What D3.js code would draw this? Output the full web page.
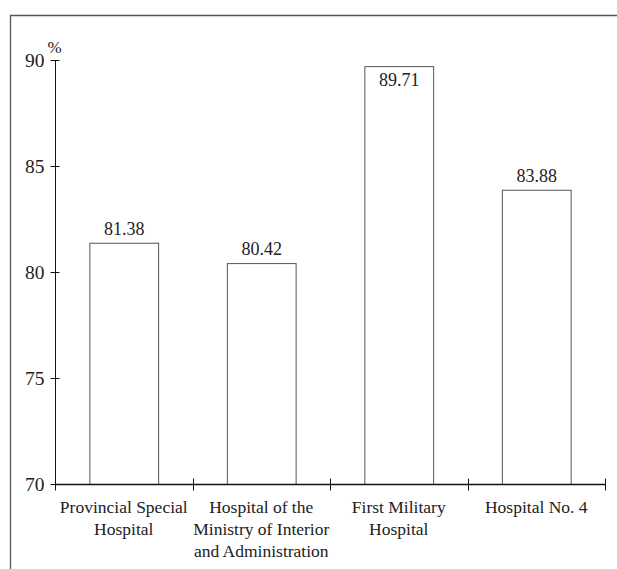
<!DOCTYPE html>
<html>
<head>
<meta charset="utf-8">
<script src="https://cdn.jsdelivr.net/npm/d3@7/dist/d3.min.js"></script>
<style>
  html, body { margin: 0; padding: 0; background: #fff; }
  svg { display: block; }
  text { font-family: "Liberation Serif", "DejaVu Serif", serif; fill: #222; }
</style>
</head>
<body>
<svg id="chart" width="617" height="569"></svg>
<script>
// Hospital names (each entry is one label line) and their percentages
const categories = [
  ["Provincial Special", "Hospital"],
  ["Hospital of the", "Ministry of Interior", "and Administration"],
  ["First Military", "Hospital"],
  ["Hospital No. 4"]
];
const values = [81.38, 80.42, 89.71, 83.88];
const yTicks = [70, 75, 80, 85, 90];
const yUnit = "%";

const svg = d3.select("#chart");
const W = 617, H = 569;
const x0 = 55, x1 = 605, yTop = 60, yBot = 484;

// Frame lines along the top and left edges
svg.append("line").attr("x1", 10).attr("x2", W).attr("y1", 15.5).attr("y2", 15.5)
  .attr("stroke", "#555").attr("stroke-width", 1.3);
svg.append("line").attr("x1", 10.5).attr("x2", 10.5).attr("y1", 15).attr("y2", H)
  .attr("stroke", "#555").attr("stroke-width", 1.3);

const x = d3.scaleBand().domain(d3.range(values.length)).range([x0, x1]).paddingInner(0.5).paddingOuter(0.25);
const xb = d3.scaleBand().domain(d3.range(values.length)).range([x0, x1]);
const y = d3.scaleLinear().domain([70, 90]).range([yBot, yTop]);

// Bars
svg.append("g").selectAll("rect").data(values).join("rect")
  .attr("x", (d, i) => x(i) + 0.5)
  .attr("y", d => y(d) + 0.5)
  .attr("width", x.bandwidth())
  .attr("height", d => y(70) - y(d))
  .attr("fill", "#fff")
  .attr("stroke", "#555")
  .attr("stroke-width", 1);

// Value labels: above the bar, or inside when it reaches the top of the axis
svg.append("g").selectAll("text").data(values).join("text")
  .attr("x", (d, i) => x(i) + x.bandwidth() / 2 + 0.5)
  .attr("y", d => (y(d) < yTop + 20 ? y(d) + 20 : y(d) - 8))
  .attr("text-anchor", "middle")
  .attr("font-size", 18)
  .text(d => d.toFixed(2));

// Y axis
const yAxis = svg.append("g").attr("transform", `translate(${x0 + 0.5},0)`);
yAxis.append("line").attr("y1", yTop).attr("y2", yBot).attr("stroke", "#111");
yAxis.selectAll("line.tick").data(yTicks).join("line").attr("class", "tick")
  .attr("x1", -5).attr("x2", 4)
  .attr("y1", d => Math.round(y(d)) + 0.5).attr("y2", d => Math.round(y(d)) + 0.5)
  .attr("stroke", "#111");
yAxis.selectAll("text").data(yTicks).join("text")
  .attr("x", -11).attr("y", d => y(d) + 6.5)
  .attr("text-anchor", "end").attr("font-size", 19.5)
  .text(d => d);
yAxis.append("text").attr("x", -8).attr("y", yTop - 7)
  .attr("font-size", 17).text(yUnit);

// X axis
const xAxis = svg.append("g").attr("transform", `translate(0,${yBot + 0.5})`);
xAxis.append("line").attr("x1", x0).attr("x2", x1 + 0.5).attr("stroke", "#111").attr("stroke-width", 1.3);
const bounds = d3.range(values.length + 1).map(i => x0 + i * xb.bandwidth());
xAxis.selectAll("line.tick").data(bounds).join("line").attr("class", "tick")
  .attr("x1", d => Math.round(d) + 0.5).attr("x2", d => Math.round(d) + 0.5)
  .attr("y1", -6).attr("y2", 6).attr("stroke", "#111");

const labels = xAxis.selectAll("text").data(categories).join("text")
  .attr("text-anchor", "middle").attr("font-size", 17.5);
labels.each(function (lines, i) {
  const t = d3.select(this);
  lines.forEach((ln, k) => {
    t.append("tspan").attr("x", xb(i) + xb.bandwidth() / 2).attr("y", 28 + k * 22).text(ln);
  });
});
</script>
</body>
</html>
